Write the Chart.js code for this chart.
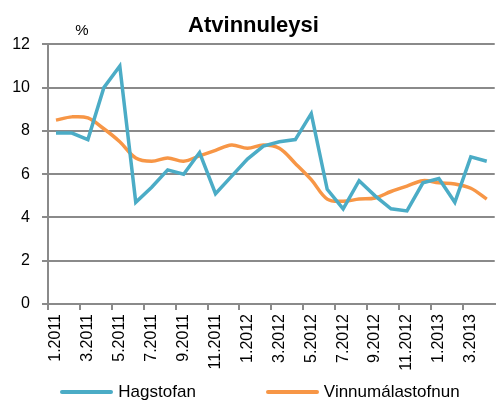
<!DOCTYPE html>
<html>
<head>
<meta charset="utf-8">
<script src="https://cdn.jsdelivr.net/npm/chart.js@4/dist/chart.umd.min.js"></script>
<style>
  body { margin: 0; overflow: hidden; background: #fff; }
  #wrap { position: relative; width: 510px; height: 403px; }
  #legend { position: absolute; left: 10px; top: 382px; width: 500px; display: flex; justify-content: center; gap: 70px;
    font-family: 'Liberation Sans', Arial, sans-serif; font-size: 17px; color: #000; }
  #legend span.item { display: flex; align-items: center; }
  #legend span.sw { display: inline-block; width: 53px; height: 4px; margin-right: 5px; border-radius: 2px; }
</style>
</head>
<body>
<div id="wrap">
  <canvas id="graf" width="510" height="403"></canvas>
  <div id="legend"></div>
</div>
<script>
const titill = 'Atvinnuleysi';
const eining = '%';

const manudir = ['1.2011', '2.2011', '3.2011', '4.2011', '5.2011', '6.2011', '7.2011', '8.2011', '9.2011', '10.2011', '11.2011', '12.2011',
  '1.2012', '2.2012', '3.2012', '4.2012', '5.2012', '6.2012', '7.2012', '8.2012', '9.2012', '10.2012', '11.2012', '12.2012',
  '1.2013', '2.2013', '3.2013', '4.2013'];

const hagstofan = [7.9, 7.9, 7.6, 10.0, 11.0, 4.7, 5.4, 6.2, 6.0, 7.0, 5.1, 5.9,
  6.7, 7.3, 7.5, 7.6, 8.8, 5.3, 4.4, 5.7, 5.0, 4.4, 4.3, 5.6,
  5.8, 4.7, 6.8, 6.6];

const vinnumalastofnun = [8.5, 8.65, 8.6, 8.1, 7.5, 6.75, 6.6, 6.75, 6.6, 6.85, 7.1, 7.35,
  7.2, 7.35, 7.2, 6.5, 5.75, 4.85, 4.75, 4.85, 4.9, 5.2, 5.45, 5.7,
  5.6, 5.55, 5.35, 4.85];

const yTicks = [0, 2, 4, 6, 8, 10, 12];

const letur = "'Liberation Sans', Arial, sans-serif";
const grar = '#8a8a8a';

// "%" fyrir ofan y-ásinn
const einingPlugin = {
  id: 'eining',
  afterDraw(chart) {
    const ctx = chart.ctx;
    ctx.save();
    ctx.font = '15px ' + letur;
    ctx.fillStyle = '#000';
    ctx.textAlign = 'center';
    ctx.textBaseline = 'middle';
    ctx.fillText(eining, 82, 31);
    ctx.restore();
  }
};

const graf = new Chart(document.getElementById('graf').getContext('2d'), {
  type: 'line',
  data: {
    labels: manudir,
    datasets: [
      { label: 'Hagstofan', data: hagstofan, borderColor: '#4bacc6', backgroundColor: '#4bacc6',
        borderWidth: 3.5, pointRadius: 0, tension: 0, fill: false },
      { label: 'Vinnumálastofnun', data: vinnumalastofnun, borderColor: '#f79646', backgroundColor: '#f79646',
        borderWidth: 3.5, pointRadius: 0, tension: 0.35, fill: false }
    ]
  },
  options: {
    responsive: false,
    animation: false,
    layout: { padding: { left: 0, right: 3, top: 0, bottom: 25 } },
    plugins: {
      legend: { display: false },
      tooltip: { enabled: false },
      title: {
        display: true,
        text: titill,
        color: '#000',
        font: { family: letur, size: 22, weight: 'bold' },
        padding: { top: 13, bottom: 5 }
      }
    },
    scales: {
      x: {
        offset: true,
        grid: {
          offset: true,
          drawOnChartArea: false,
          tickLength: 6,
          tickColor: (c) => (c.index % 2 === 0 ? grar : 'rgba(0,0,0,0)'),
          lineWidth: 2
        },
        border: { color: grar, width: 2 },
        ticks: {
          autoSkip: false,
          maxRotation: 90,
          minRotation: 90,
          padding: 4,
          color: '#000',
          font: { family: letur, size: 16 },
          callback: function (v, i) { return i % 2 === 0 ? this.getLabelForValue(v) : ''; }
        },
        afterFit: (s) => { s.height = 74; }
      },
      y: {
        min: 0,
        max: 12,
        afterBuildTicks: (s) => { s.ticks = yTicks.map(v => ({ value: v })); },
        grid: { color: grar, lineWidth: 2, tickLength: 6 },
        border: { color: grar, width: 2 },
        ticks: { padding: 12, color: '#000', font: { family: letur, size: 16 } },
        afterFit: (s) => { s.width = 48; }
      }
    }
  },
  plugins: [einingPlugin]
});

// skýringar undir myndinni
const legend = document.getElementById('legend');
graf.data.datasets.forEach(ds => {
  const item = document.createElement('span');
  item.className = 'item';
  item.innerHTML = `<span class="sw" style="background:${ds.borderColor}"></span>${ds.label}`;
  legend.appendChild(item);
});
</script>
</body>
</html>
